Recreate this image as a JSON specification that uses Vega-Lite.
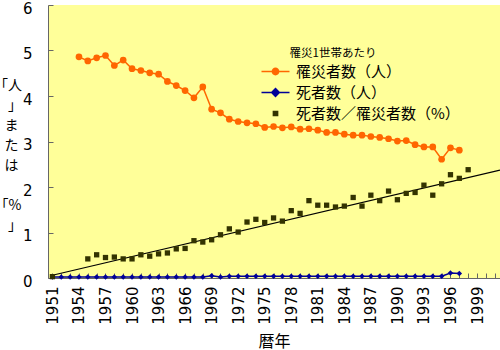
{
  "$schema": "https://vega.github.io/schema/vega-lite/v6.json",
  "width": 452,
  "height": 273,
  "autosize": {"type": "none"},
  "padding": {"left": 48, "top": 5, "right": 0, "bottom": 72},
  "background": "white",
  "config": {
    "view": {"fill": "#FFFF99", "stroke": null},
    "font": "Noto Sans CJK JP",
    "axis": {
      "grid": false,
      "domainColor": "#666666",
      "tickColor": "#666666",
      "tickSize": -5,
      "labelColor": "black",
      "labelFont": "DejaVu Sans",
      "titleColor": "black",
      "titleFont": "Noto Sans CJK JP",
      "titleFontWeight": "normal"
    }
  },
  "datasets": {
    "main": [
      {"year": 1954, "s": "罹災者数（人）", "v": 4.86},
      {"year": 1955, "s": "罹災者数（人）", "v": 4.77},
      {"year": 1956, "s": "罹災者数（人）", "v": 4.84},
      {"year": 1957, "s": "罹災者数（人）", "v": 4.89},
      {"year": 1958, "s": "罹災者数（人）", "v": 4.67},
      {"year": 1959, "s": "罹災者数（人）", "v": 4.79},
      {"year": 1960, "s": "罹災者数（人）", "v": 4.60},
      {"year": 1961, "s": "罹災者数（人）", "v": 4.56},
      {"year": 1962, "s": "罹災者数（人）", "v": 4.51},
      {"year": 1963, "s": "罹災者数（人）", "v": 4.48},
      {"year": 1964, "s": "罹災者数（人）", "v": 4.32},
      {"year": 1965, "s": "罹災者数（人）", "v": 4.23},
      {"year": 1966, "s": "罹災者数（人）", "v": 4.12},
      {"year": 1967, "s": "罹災者数（人）", "v": 3.96},
      {"year": 1968, "s": "罹災者数（人）", "v": 4.20},
      {"year": 1969, "s": "罹災者数（人）", "v": 3.71},
      {"year": 1970, "s": "罹災者数（人）", "v": 3.63},
      {"year": 1971, "s": "罹災者数（人）", "v": 3.49},
      {"year": 1972, "s": "罹災者数（人）", "v": 3.44},
      {"year": 1973, "s": "罹災者数（人）", "v": 3.41},
      {"year": 1974, "s": "罹災者数（人）", "v": 3.39},
      {"year": 1975, "s": "罹災者数（人）", "v": 3.31},
      {"year": 1976, "s": "罹災者数（人）", "v": 3.33},
      {"year": 1977, "s": "罹災者数（人）", "v": 3.30},
      {"year": 1978, "s": "罹災者数（人）", "v": 3.32},
      {"year": 1979, "s": "罹災者数（人）", "v": 3.27},
      {"year": 1980, "s": "罹災者数（人）", "v": 3.28},
      {"year": 1981, "s": "罹災者数（人）", "v": 3.25},
      {"year": 1982, "s": "罹災者数（人）", "v": 3.20},
      {"year": 1983, "s": "罹災者数（人）", "v": 3.20},
      {"year": 1984, "s": "罹災者数（人）", "v": 3.16},
      {"year": 1985, "s": "罹災者数（人）", "v": 3.14},
      {"year": 1986, "s": "罹災者数（人）", "v": 3.14},
      {"year": 1987, "s": "罹災者数（人）", "v": 3.11},
      {"year": 1988, "s": "罹災者数（人）", "v": 3.09},
      {"year": 1989, "s": "罹災者数（人）", "v": 3.06},
      {"year": 1990, "s": "罹災者数（人）", "v": 3.01},
      {"year": 1991, "s": "罹災者数（人）", "v": 3.02},
      {"year": 1992, "s": "罹災者数（人）", "v": 2.93},
      {"year": 1993, "s": "罹災者数（人）", "v": 2.88},
      {"year": 1994, "s": "罹災者数（人）", "v": 2.88},
      {"year": 1995, "s": "罹災者数（人）", "v": 2.61},
      {"year": 1996, "s": "罹災者数（人）", "v": 2.86},
      {"year": 1997, "s": "罹災者数（人）", "v": 2.81},
      {"year": 1951, "s": "死者数（人）", "v": 0.02},
      {"year": 1952, "s": "死者数（人）", "v": 0.02},
      {"year": 1953, "s": "死者数（人）", "v": 0.02},
      {"year": 1954, "s": "死者数（人）", "v": 0.02},
      {"year": 1955, "s": "死者数（人）", "v": 0.02},
      {"year": 1956, "s": "死者数（人）", "v": 0.02},
      {"year": 1957, "s": "死者数（人）", "v": 0.02},
      {"year": 1958, "s": "死者数（人）", "v": 0.02},
      {"year": 1959, "s": "死者数（人）", "v": 0.02},
      {"year": 1960, "s": "死者数（人）", "v": 0.02},
      {"year": 1961, "s": "死者数（人）", "v": 0.02},
      {"year": 1962, "s": "死者数（人）", "v": 0.02},
      {"year": 1963, "s": "死者数（人）", "v": 0.02},
      {"year": 1964, "s": "死者数（人）", "v": 0.02},
      {"year": 1965, "s": "死者数（人）", "v": 0.02},
      {"year": 1966, "s": "死者数（人）", "v": 0.02},
      {"year": 1967, "s": "死者数（人）", "v": 0.02},
      {"year": 1968, "s": "死者数（人）", "v": 0.02},
      {"year": 1969, "s": "死者数（人）", "v": 0.05},
      {"year": 1970, "s": "死者数（人）", "v": 0.02},
      {"year": 1971, "s": "死者数（人）", "v": 0.04},
      {"year": 1972, "s": "死者数（人）", "v": 0.04},
      {"year": 1973, "s": "死者数（人）", "v": 0.04},
      {"year": 1974, "s": "死者数（人）", "v": 0.04},
      {"year": 1975, "s": "死者数（人）", "v": 0.04},
      {"year": 1976, "s": "死者数（人）", "v": 0.04},
      {"year": 1977, "s": "死者数（人）", "v": 0.04},
      {"year": 1978, "s": "死者数（人）", "v": 0.04},
      {"year": 1979, "s": "死者数（人）", "v": 0.04},
      {"year": 1980, "s": "死者数（人）", "v": 0.04},
      {"year": 1981, "s": "死者数（人）", "v": 0.04},
      {"year": 1982, "s": "死者数（人）", "v": 0.04},
      {"year": 1983, "s": "死者数（人）", "v": 0.04},
      {"year": 1984, "s": "死者数（人）", "v": 0.04},
      {"year": 1985, "s": "死者数（人）", "v": 0.04},
      {"year": 1986, "s": "死者数（人）", "v": 0.04},
      {"year": 1987, "s": "死者数（人）", "v": 0.04},
      {"year": 1988, "s": "死者数（人）", "v": 0.04},
      {"year": 1989, "s": "死者数（人）", "v": 0.04},
      {"year": 1990, "s": "死者数（人）", "v": 0.04},
      {"year": 1991, "s": "死者数（人）", "v": 0.04},
      {"year": 1992, "s": "死者数（人）", "v": 0.04},
      {"year": 1993, "s": "死者数（人）", "v": 0.04},
      {"year": 1994, "s": "死者数（人）", "v": 0.04},
      {"year": 1995, "s": "死者数（人）", "v": 0.04},
      {"year": 1996, "s": "死者数（人）", "v": 0.11},
      {"year": 1997, "s": "死者数（人）", "v": 0.10},
      {"year": 1951, "s": "死者数／罹災者数（%）", "v": 0.03},
      {"year": 1955, "s": "死者数／罹災者数（%）", "v": 0.42},
      {"year": 1956, "s": "死者数／罹災者数（%）", "v": 0.51},
      {"year": 1957, "s": "死者数／罹災者数（%）", "v": 0.45},
      {"year": 1958, "s": "死者数／罹災者数（%）", "v": 0.46},
      {"year": 1959, "s": "死者数／罹災者数（%）", "v": 0.42},
      {"year": 1960, "s": "死者数／罹災者数（%）", "v": 0.42},
      {"year": 1961, "s": "死者数／罹災者数（%）", "v": 0.51},
      {"year": 1962, "s": "死者数／罹災者数（%）", "v": 0.48},
      {"year": 1963, "s": "死者数／罹災者数（%）", "v": 0.53},
      {"year": 1964, "s": "死者数／罹災者数（%）", "v": 0.55},
      {"year": 1965, "s": "死者数／罹災者数（%）", "v": 0.64},
      {"year": 1966, "s": "死者数／罹災者数（%）", "v": 0.65},
      {"year": 1967, "s": "死者数／罹災者数（%）", "v": 0.82},
      {"year": 1968, "s": "死者数／罹災者数（%）", "v": 0.79},
      {"year": 1969, "s": "死者数／罹災者数（%）", "v": 0.84},
      {"year": 1970, "s": "死者数／罹災者数（%）", "v": 0.95},
      {"year": 1971, "s": "死者数／罹災者数（%）", "v": 1.08},
      {"year": 1972, "s": "死者数／罹災者数（%）", "v": 1.01},
      {"year": 1973, "s": "死者数／罹災者数（%）", "v": 1.23},
      {"year": 1974, "s": "死者数／罹災者数（%）", "v": 1.29},
      {"year": 1975, "s": "死者数／罹災者数（%）", "v": 1.22},
      {"year": 1976, "s": "死者数／罹災者数（%）", "v": 1.32},
      {"year": 1977, "s": "死者数／罹災者数（%）", "v": 1.25},
      {"year": 1978, "s": "死者数／罹災者数（%）", "v": 1.48},
      {"year": 1979, "s": "死者数／罹災者数（%）", "v": 1.42},
      {"year": 1980, "s": "死者数／罹災者数（%）", "v": 1.70},
      {"year": 1981, "s": "死者数／罹災者数（%）", "v": 1.60},
      {"year": 1982, "s": "死者数／罹災者数（%）", "v": 1.60},
      {"year": 1983, "s": "死者数／罹災者数（%）", "v": 1.56},
      {"year": 1984, "s": "死者数／罹災者数（%）", "v": 1.58},
      {"year": 1985, "s": "死者数／罹災者数（%）", "v": 1.77},
      {"year": 1986, "s": "死者数／罹災者数（%）", "v": 1.58},
      {"year": 1987, "s": "死者数／罹災者数（%）", "v": 1.82},
      {"year": 1988, "s": "死者数／罹災者数（%）", "v": 1.70},
      {"year": 1989, "s": "死者数／罹災者数（%）", "v": 1.91},
      {"year": 1990, "s": "死者数／罹災者数（%）", "v": 1.72},
      {"year": 1991, "s": "死者数／罹災者数（%）", "v": 1.86},
      {"year": 1992, "s": "死者数／罹災者数（%）", "v": 1.88},
      {"year": 1993, "s": "死者数／罹災者数（%）", "v": 2.04},
      {"year": 1994, "s": "死者数／罹災者数（%）", "v": 1.82},
      {"year": 1995, "s": "死者数／罹災者数（%）", "v": 2.07},
      {"year": 1996, "s": "死者数／罹災者数（%）", "v": 2.27},
      {"year": 1997, "s": "死者数／罹災者数（%）", "v": 2.19},
      {"year": 1998, "s": "死者数／罹災者数（%）", "v": 2.38}
    ],
    "trend": [
      {"year": 1951, "v": 0.06},
      {"year": 2001.6, "v": 2.37}
    ]
  },
  "encoding": {
    "x": {
      "field": "year",
      "type": "quantitative",
      "scale": {"domain": [1950.5, 2001.6], "nice": false, "zero": false},
      "axis": {
        "title": "暦年",
        "titleFontSize": 16,
        "titleY": 55,
        "titleBaseline": "top",
        "values": [1951,1952,1953,1954,1955,1956,1957,1958,1959,1960,1961,1962,1963,1964,1965,1966,1967,1968,1969,1970,1971,1972,1973,1974,1975,1976,1977,1978,1979,1980,1981,1982,1983,1984,1985,1986,1987,1988,1989,1990,1991,1992,1993,1994,1995,1996,1997,1998,1999,2000,2001],
        "format": "d",
        "labelExpr": "(datum.value - 1951) % 3 == 0 && datum.value < 2000 ? datum.label : ''",
        "labelAngle": -90,
        "labelFontSize": 15,
        "labelPadding": 13,
        "labelOverlap": false,
        "labelFlush": false
      }
    },
    "y": {
      "field": "v",
      "type": "quantitative",
      "scale": {"domain": [0, 6], "nice": false},
      "axis": {
        "title": ["｢人", "｣", "ま", "た", "は", "\u200B", "｢%", "｣"],
        "titleFontSize": 14,
        "titleLineHeight": 20,
        "titleAngle": 0,
        "titleAlign": "center",
        "titleBaseline": "middle",
        "titleX": -37,
        "titleY": 80,
        "values": [0, 1, 2, 3, 4, 5, 6],
        "format": "d",
        "labelFontSize": 15,
        "labelPadding": 21,
        "labelOffset": 3,
        "labelFlush": false
      }
    },
    "color": {
      "field": "s",
      "type": "nominal",
      "scale": {"domain": ["罹災者数（人）", "死者数（人）", "死者数／罹災者数（%）"], "range": ["#FF6600", "#000099", "#333300"]},
      "legend": {
        "title": "罹災1世帯あたり",
        "orient": "none",
        "legendX": 219.5,
        "legendY": 43,
        "titleFontSize": 11.5,
        "titleFontWeight": "normal",
        "titleColor": "black",
        "titleAnchor": "start",
        "titlePadding": 4,
        "labelFontSize": 15,
        "labelColor": "black",
        "labelFont": "Noto Sans CJK JP",
        "labelLimit": 400,
        "symbolSize": 196,
        "labelOffset": 12.5,
        "rowPadding": 5,
        "encode": {
          "title": {"update": {"dx": {"value": 22}}},
          "symbols": {
            "update": {
              "shape": {"signal": "datum.value === '罹災者数（人）' ? 'M-2,0H2M-0.45,0A0.45,0.45,0,1,1,0.45,0A0.45,0.45,0,1,1,-0.45,0Z' : datum.value === '死者数（人）' ? 'M-2,0H2M0,-0.55L0.55,0L0,0.55L-0.55,0Z' : 'M-0.3,-0.3H0.3V0.3H-0.3Z'"},
              "fill": {"scale": "color", "field": "value"},
              "stroke": {"scale": "color", "field": "value"},
              "strokeWidth": {"value": 1.5},
              "opacity": {"value": 1},
              "size": {"value": 196}
            }
          }
        }
      }
    }
  },
  "layer": [
    {
      "data": {"name": "trend"},
      "mark": {"type": "line", "color": "black", "strokeWidth": 1.2, "clip": true},
      "encoding": {"color": {"value": "black"}}
    },
    {
      "data": {"name": "main"},
      "transform": [{"filter": "datum.s !== '死者数／罹災者数（%）'"}],
      "mark": {"type": "line", "strokeWidth": 1.5}
    },
    {
      "data": {"name": "main"},
      "transform": [{"filter": "datum.s === '罹災者数（人）'"}],
      "mark": {"type": "point", "filled": true, "opacity": 1, "shape": "circle", "size": 45}
    },
    {
      "data": {"name": "main"},
      "transform": [{"filter": "datum.s === '死者数（人）'"}],
      "mark": {"type": "point", "filled": true, "opacity": 1, "shape": "diamond", "size": 30}
    },
    {
      "data": {"name": "main"},
      "transform": [{"filter": "datum.s === '死者数／罹災者数（%）'"}],
      "mark": {"type": "point", "filled": true, "opacity": 1, "shape": "square", "size": 28}
    }
  ]
}
